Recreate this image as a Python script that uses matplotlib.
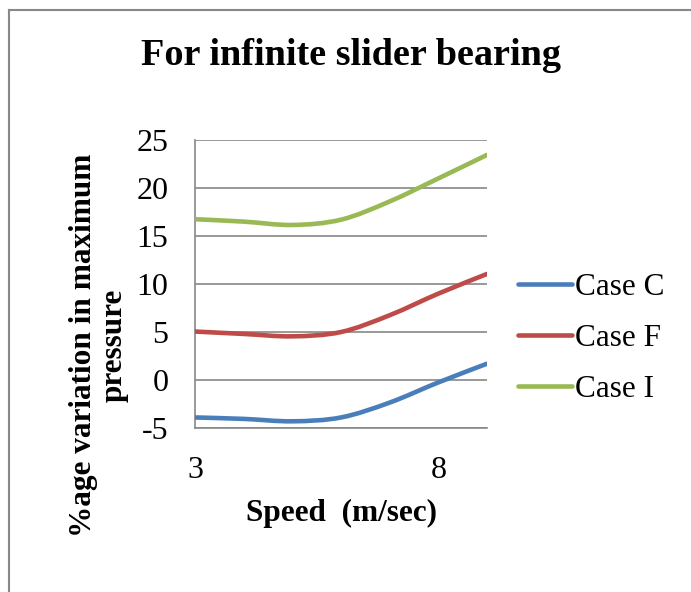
import numpy as np
import matplotlib.pyplot as plt
from matplotlib.path import Path
from matplotlib.patches import PathPatch
from matplotlib.lines import Line2D

plt.rcParams['font.family'] = ['Liberation Serif', 'DejaVu Serif']
plt.rcParams['axes.unicode_minus'] = False

# speed (m/sec) and % variation in maximum pressure
speed = [3, 4, 5, 6, 7, 8, 9]
case_c = [-3.9, -4.05, -4.3, -3.9, -2.35, -0.25, 1.7]
case_f = [5.05, 4.8, 4.55, 5.0, 6.75, 9.0, 11.05]
case_i = [16.75, 16.5, 16.15, 16.7, 18.6, 21.0, 23.45]

labels = ['Case C', 'Case F', 'Case I']
colors = ['#4A7EBB', '#BE4B48', '#98B954']


def smooth_path(x, y):
    # Excel-like smoothed line: cubic bezier through the points
    x = np.asarray(x, float)
    y = np.asarray(y, float)
    pts = np.column_stack([x, y])
    verts = [pts[0]]
    codes = [Path.MOVETO]
    n = len(pts)
    for i in range(n - 1):
        p0 = pts[max(i - 1, 0)]
        p1 = pts[i]
        p2 = pts[i + 1]
        p3 = pts[min(i + 2, n - 1)]
        c1 = p1 + (p2 - p0) / 6
        c2 = p2 - (p3 - p1) / 6
        verts += [c1, c2, p2]
        codes += [Path.CURVE4] * 3
    return Path(verts, codes)


fig = plt.figure(figsize=(6.91, 5.92), dpi=100)
ax = fig.add_axes([0.2822, 0.277, 0.4226, 0.4865])

for vals, col in zip([case_c, case_f, case_i], colors):
    ax.add_patch(PathPatch(smooth_path(speed, vals), fill=False, edgecolor=col,
                           lw=3.3, capstyle='round', zorder=3))

ax.set_xlim(3, 9)
ax.set_ylim(-5, 25)
ax.set_xticks([3, 8])
ax.set_yticks(range(-5, 26, 5))
ax.yaxis.grid(True, color='#888888', lw=1.2)
ax.set_axisbelow(True)
for s in ['top', 'right']:
    ax.spines[s].set_visible(False)
for s in ['left', 'bottom']:
    ax.spines[s].set_color('#888888')
    ax.spines[s].set_linewidth(1.2)
ax.tick_params(axis='both', length=0, labelsize=23)
ax.tick_params(axis='y', pad=19)
ax.tick_params(axis='x', pad=20)

fig.text(0.4935, 0.1334, 'Speed  (m/sec)', ha='center', va='center',
         fontsize=22.5, fontweight='bold')
fig.text(0.143, 0.417, '%age variation in maximum\npressure', rotation=90,
         ha='center', va='center', fontsize=22.5, fontweight='bold',
         multialignment='center', linespacing=1.05)

fig.text(0.508, 0.907, 'For infinite slider bearing', ha='center', va='center',
         fontsize=27.5, fontweight='bold')

handles = [Line2D([], [], color=c, lw=3.3, solid_capstyle='round') for c in colors]
fig.legend(handles, labels, loc='center left', bbox_to_anchor=(0.7496, 0.428),
           frameon=False, fontsize=22.5, handlelength=1.73, handletextpad=0.1,
           labelspacing=0.7, borderpad=0, borderaxespad=0)

# chart area border (cut off at right and bottom in the original)
fig.add_artist(Line2D([9 / 691, 9 / 691], [0, 1 - 10 / 592], color='#888888', lw=1.5))
fig.add_artist(Line2D([9 / 691, 1], [1 - 10 / 592, 1 - 10 / 592], color='#888888', lw=1.5))

fig.savefig('out.png', dpi=100)
